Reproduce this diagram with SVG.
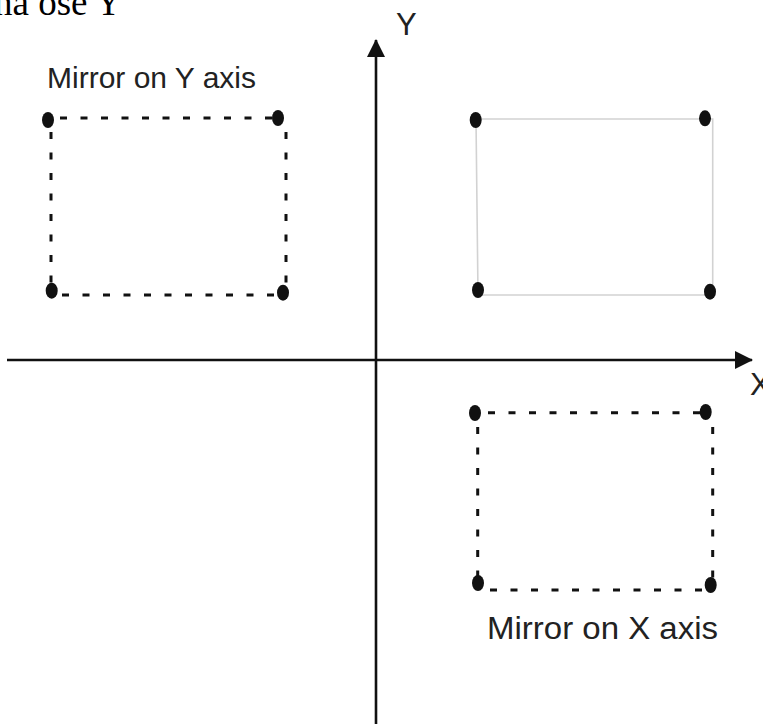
<svg xmlns="http://www.w3.org/2000/svg" width="763" height="724" viewBox="0 0 763 724">
<style>
.axis{stroke:#111;stroke-width:2.6;fill:none}
.dash{stroke:#111;stroke-width:3;stroke-dasharray:7 13.5;fill:none}
.solid{stroke:#d2d2d2;stroke-width:1.6;fill:none}
.dot{fill:#111}
.lbl{font-family:"Liberation Sans",Arial,sans-serif;fill:#222}
.top{font-family:"Liberation Serif","Times New Roman",serif;fill:#000}
</style>
<defs>
<marker id="ah" viewBox="0 0 18 18" refX="17" refY="9" markerWidth="18" markerHeight="18" markerUnits="userSpaceOnUse" orient="auto">
<path d="M0,0 L18,9 L0,18 Z" fill="#111"/>
</marker>
</defs>
<text class="top" x="-6" y="15" font-size="37">na ose Y</text>
<g id="connectors">
<line class="axis" x1="7" y1="360" x2="752" y2="360" marker-end="url(#ah)"/>
<line class="axis" x1="376" y1="724" x2="376" y2="40" marker-end="url(#ah)"/>
</g>
<g id="axis-labels">
<text class="lbl" x="396" y="35" font-size="31">Y</text>
<text class="lbl" x="750" y="395" font-size="31">X</text>
</g>
<g id="original">
<path class="solid" d="M476,119 L712.7,119 L712.7,295 L478,295 Z"/>
<ellipse class="dot" cx="475.7" cy="120" rx="6" ry="8"/>
<ellipse class="dot" cx="705" cy="118.3" rx="6" ry="8"/>
<ellipse class="dot" cx="478" cy="290" rx="6" ry="8"/>
<ellipse class="dot" cx="710" cy="291.7" rx="6" ry="8"/>
</g>
<g id="mirror-y">
<line class="dash" x1="60" y1="118" x2="275" y2="118"/>
<line class="dash" x1="51" y1="132" x2="51" y2="284"/>
<line class="dash" x1="286" y1="132" x2="286" y2="286"/>
<line class="dash" x1="62" y1="295" x2="280" y2="295"/>
<ellipse class="dot" cx="48" cy="120" rx="6" ry="8"/>
<ellipse class="dot" cx="278" cy="118" rx="6" ry="8"/>
<ellipse class="dot" cx="51.7" cy="290.7" rx="6" ry="8"/>
<ellipse class="dot" cx="283" cy="292.7" rx="6" ry="8"/>
<text class="lbl" x="47" y="88" font-size="30" textLength="209" lengthAdjust="spacingAndGlyphs">Mirror on Y axis</text>
</g>
<g id="mirror-x">
<line class="dash" x1="488" y1="412.7" x2="700" y2="412.7"/>
<line class="dash" x1="477.7" y1="427" x2="477.7" y2="578"/>
<line class="dash" x1="712.7" y1="427" x2="712.7" y2="580"/>
<line class="dash" x1="490" y1="590" x2="704" y2="590"/>
<ellipse class="dot" cx="475" cy="413" rx="6" ry="8"/>
<ellipse class="dot" cx="705.7" cy="412" rx="6" ry="8"/>
<ellipse class="dot" cx="478" cy="583" rx="6" ry="8"/>
<ellipse class="dot" cx="710.7" cy="585" rx="6" ry="8"/>
<text class="lbl" x="487" y="639" font-size="31" textLength="231" lengthAdjust="spacingAndGlyphs">Mirror on X axis</text>
</g>
</svg>
